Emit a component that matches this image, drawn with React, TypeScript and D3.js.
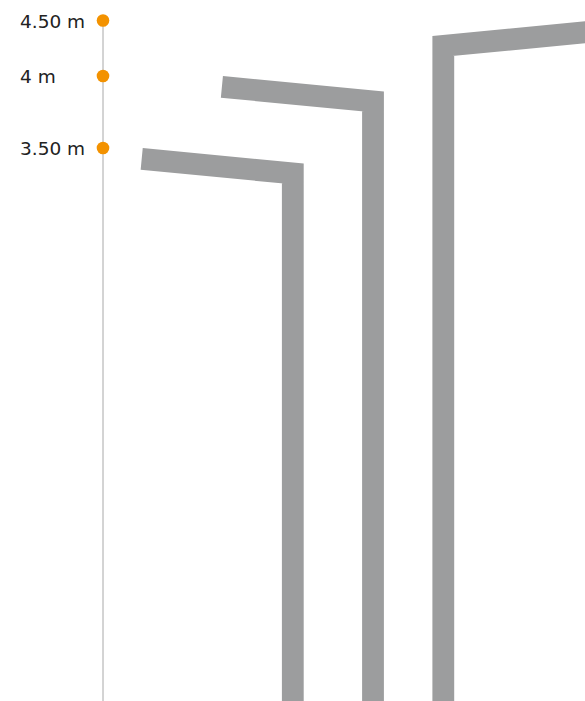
import React from "react";
import * as d3 from "d3";

const lamps = ["A", "B", "C"];
const heights = [3.5, 4, 4.5];
const armDirection = [-1, -1, 1];
const tickValues = [4.5, 4, 3.5];
const tickLabels = ["4.50 m", "4 m", "3.50 m"];

const W = 585;
const H = 701;

export default function App() {
  const y = d3.scaleLinear().domain([3.5, 4, 4.5]).range([148, 76, 20.5]);
  const x = d3.scaleOrdinal<string, number>().domain(lamps).range([292.8, 373, 443.3]);
  const axisX = 103;
  const stroke = 21.8;
  const armLen = 162;
  const armDrop = 14.5;
  const color = "#9c9d9e";

  const line = d3.line<[number, number]>();

  return (
    <svg
      width={W}
      height={H}
      style={{ position: "absolute", left: 0, top: 0, display: "block" }}
    >
      <line x1={axisX} x2={axisX} y1={y(4.5)} y2={H} stroke="#a8a8a8" strokeWidth={1} />
      {lamps.map((l, i) => {
        const cx = x(l);
        const dir = armDirection[i];
        const top = y(heights[i]);
        const half = stroke / 2;
        const outerX = cx - dir * half;
        const tipX = outerX + dir * armLen;
        const pts: [number, number][] = [
          [tipX, top + half],
          [cx, top + armDrop + half],
          [cx, H + 20],
        ];
        return (
          <path
            key={l}
            d={line(pts) || ""}
            fill="none"
            stroke={color}
            strokeWidth={stroke}
            strokeLinejoin="miter"
            strokeLinecap="butt"
          />
        );
      })}
      {tickValues.map((v, i) => (
        <g key={v}>
          <circle cx={axisX} cy={y(v)} r={6.3} fill="#f39200" />
          <text
            x={20}
            y={y(v)}
            dy="0.38em"
            fontFamily="'DejaVu Sans', sans-serif"
            fontSize={18.5}
            fill="#222"
          >
            {tickLabels[i]}
          </text>
        </g>
      ))}
    </svg>
  );
}
